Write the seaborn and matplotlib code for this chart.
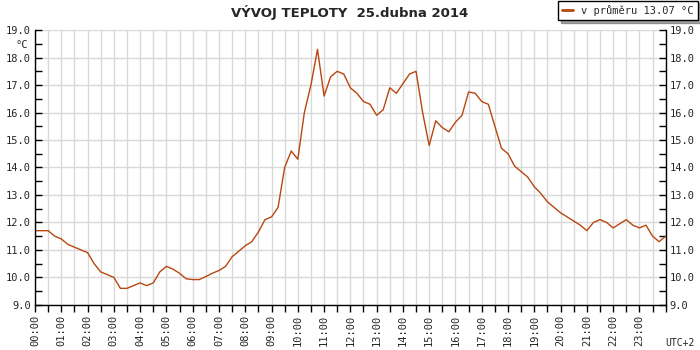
import pandas as pd
import seaborn as sns
import matplotlib.pyplot as plt
from matplotlib.lines import Line2D
from matplotlib.ticker import MultipleLocator

# teploty po 15 minutach, 00:00 - 24:00
temps = [
    11.7, 11.7, 11.7, 11.5, 11.4, 11.2, 11.1, 11.0,      # 00:00 - 01:45
    10.9, 10.5, 10.2, 10.1, 10.0, 9.6, 9.6, 9.7,         # 02:00 - 03:45
    9.8, 9.7, 9.8, 10.2, 10.4, 10.3, 10.15, 9.95,        # 04:00 - 05:45
    9.92, 9.92, 10.03, 10.15, 10.25, 10.4, 10.75, 10.95, # 06:00 - 07:45
    11.15, 11.3, 11.65, 12.1, 12.2, 12.55, 14.0, 14.6,   # 08:00 - 09:45
    14.3, 16.0, 17.0, 18.3, 16.6, 17.3, 17.5, 17.4,      # 10:00 - 11:45
    16.9, 16.7, 16.4, 16.3, 15.9, 16.1, 16.9, 16.7,      # 12:00 - 13:45
    17.05, 17.4, 17.5, 16.0, 14.8, 15.7, 15.45, 15.3,    # 14:00 - 15:45
    15.65, 15.9, 16.75, 16.7, 16.4, 16.3, 15.5, 14.7,    # 16:00 - 17:45
    14.5, 14.05, 13.85, 13.65, 13.3, 13.05, 12.75, 12.55,  # 18:00 - 19:45
    12.35, 12.2, 12.05, 11.9, 11.7, 12.0, 12.1, 12.0,    # 20:00 - 21:45
    11.8, 11.95, 12.1, 11.9, 11.8, 11.9, 11.5, 11.3,     # 22:00 - 23:45
    11.5,                                                # 24:00
]
hour_labels = ["00:00", "01:00", "02:00", "03:00", "04:00", "05:00",
               "06:00", "07:00", "08:00", "09:00", "10:00", "11:00",
               "12:00", "13:00", "14:00", "15:00", "16:00", "17:00",
               "18:00", "19:00", "20:00", "21:00", "22:00", "23:00"]
y_ticks = [9.0, 10.0, 11.0, 12.0, 13.0, 14.0, 15.0, 16.0, 17.0, 18.0, 19.0]
title = "VÝVOJ TEPLOTY  25.dubna 2014"
legend_text = "v průměru 13.07 °C"

line_color = "#b8460f"

times = pd.date_range("2014-04-25 00:00", periods=len(temps), freq="15min")
df = pd.DataFrame({"cas": times, "teplota": temps})
df["hodina"] = (df["cas"] - df["cas"].iloc[0]).dt.total_seconds() / 3600

sns.set_style("white")
plt.rcParams["font.family"] = ["DejaVu Sans Mono", "DejaVu Sans"]

fig, ax = plt.subplots(figsize=(7, 3.5), dpi=100)
fig.subplots_adjust(left=0.05, right=0.951, top=0.914, bottom=0.129)

sns.lineplot(data=df, x="hodina", y="teplota", color=line_color,
             linewidth=1.0, ax=ax, legend=False)

ax.set_xlim(0, 24)
ax.set_ylim(9, 19)
ax.set_xlabel("")
ax.set_ylabel("")

# osa x: hodiny + pulhodiny
ax.set_xticks(range(len(hour_labels)))
ax.set_xticklabels(hour_labels, rotation=90, fontsize=7.5)
ax.xaxis.set_minor_locator(MultipleLocator(0.5))
ax.tick_params(axis="x", which="both", direction="out", length=5,
               width=1, color="black", pad=2, bottom=True)

# osa y: vlevo i vpravo
ax.set_yticks(y_ticks)
ax.set_yticklabels([f"{v:.1f}" for v in y_ticks], fontsize=7.5)
ax.yaxis.set_minor_locator(MultipleLocator(0.5))
ax.tick_params(axis="y", which="both", direction="in", length=5, width=1,
               color="black", left=True, right=True, labelright=True, pad=3)

ax.grid(axis="x", which="both", color="#d9d9d9", linewidth=1)
ax.grid(axis="y", which="major", color="#d9d9d9", linewidth=1)
ax.set_axisbelow(True)

ax.spines["top"].set_visible(False)
for s in ["left", "right", "bottom"]:
    ax.spines[s].set_color("black")
    ax.spines[s].set_linewidth(1)

fig.text(0.5, 0.965, title, ha="center", va="center",
         fontsize=9.5, fontweight="bold", family="DejaVu Sans")
fig.text(22 / 700, 1 - 45 / 350, "°C", ha="center", va="center", fontsize=7.5)
fig.text(680 / 700, 1 - 343 / 350, "UTC+2", ha="center", va="center", fontsize=7)

handle = Line2D([], [], color=line_color, linewidth=2)
fig.legend([handle], [legend_text], loc="upper right",
           bbox_to_anchor=(0.997, 0.998), frameon=True, fancybox=False,
           shadow=True, edgecolor="black", fontsize=7.5, handlelength=1.0,
           borderpad=0.4, borderaxespad=0)

fig.savefig("out.png", dpi=100)
